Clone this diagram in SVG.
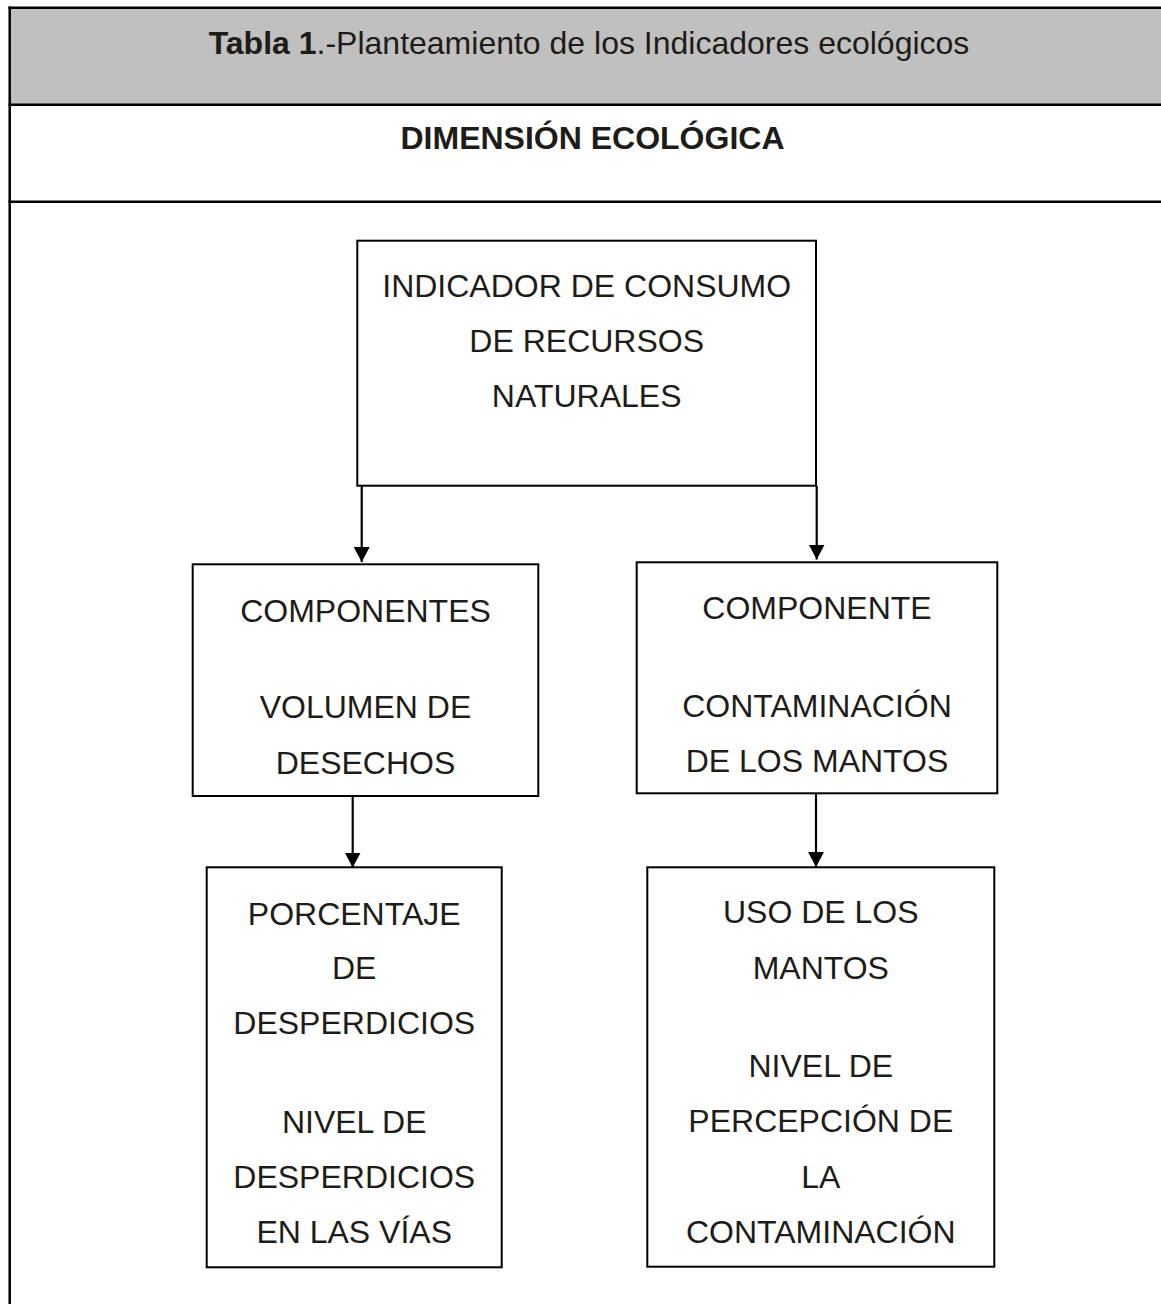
<svg xmlns="http://www.w3.org/2000/svg" width="1161" height="1304" viewBox="0 0 1161 1304">
<style>
text{font-family:"Liberation Sans",Arial,sans-serif;fill:#1e1c18;text-anchor:middle}
.t{font-size:32px}
.b{font-weight:bold}
.box{fill:#fff;stroke:#000;stroke-width:2}
.tl{stroke:#000;stroke-width:2.5;fill:none}
.c{stroke:#000;stroke-width:2.2;fill:none;marker-end:url(#ah)}
</style>
<defs>
<marker id="ah" viewBox="0 0 15 16" refX="15" refY="8" markerWidth="15" markerHeight="16" markerUnits="userSpaceOnUse" orient="auto">
<path d="M0,0 L15,8 L0,16 z" fill="#000"/>
</marker>
</defs>
<g id="table">
<rect x="9.5" y="7.7" width="1160" height="97" fill="#c0c0c0"/>
<line class="tl" x1="8.5" y1="7.7" x2="1161" y2="7.7"/>
<line class="tl" x1="8.5" y1="104.7" x2="1161" y2="104.7"/>
<line class="tl" x1="8.5" y1="201.7" x2="1161" y2="201.7"/>
<line class="tl" x1="9.7" y1="6.5" x2="9.7" y2="1304"/>
<text class="t" x="589" y="54"><tspan class="b">Tabla 1</tspan>.-Planteamiento de los Indicadores ecológicos</text>
<text class="t b" x="592.5" y="149.3" font-size="31">DIMENSIÓN ECOLÓGICA</text>
</g>
<g id="connectors">
<line class="c" x1="361.7" y1="486" x2="361.7" y2="562"/>
<line class="c" x1="816.7" y1="486" x2="816.7" y2="559.5"/>
<line class="c" x1="352.7" y1="796" x2="352.7" y2="867.5"/>
<line class="c" x1="816" y1="793.3" x2="816" y2="867"/>
</g>
<g id="n1">
<rect class="box" x="357.3" y="240.7" width="458.7" height="245"/>
<text class="t" x="586.7" y="296.7">INDICADOR DE CONSUMO</text>
<text class="t" x="586.7" y="351.7">DE RECURSOS</text>
<text class="t" x="586.7" y="406.7">NATURALES</text>
</g>
<g id="n2">
<rect class="box" x="192.7" y="564.3" width="345.6" height="231.7"/>
<text class="t" x="365.5" y="621.7">COMPONENTES</text>
<text class="t" x="365.5" y="718.3">VOLUMEN DE</text>
<text class="t" x="365.5" y="774">DESECHOS</text>
</g>
<g id="n3">
<rect class="box" x="636.7" y="562.3" width="360.6" height="231"/>
<text class="t" x="817" y="619">COMPONENTE</text>
<text class="t" x="817" y="716.7">CONTAMINACIÓN</text>
<text class="t" x="817" y="771.7">DE LOS MANTOS</text>
</g>
<g id="n4">
<rect class="box" x="206.7" y="867.3" width="295" height="400"/>
<text class="t" x="354.2" y="925">PORCENTAJE</text>
<text class="t" x="354.2" y="979.3">DE</text>
<text class="t" x="354.2" y="1034.3">DESPERDICIOS</text>
<text class="t" x="354.2" y="1133.3">NIVEL DE</text>
<text class="t" x="354.2" y="1187.7">DESPERDICIOS</text>
<text class="t" x="354.2" y="1242.7">EN LAS VÍAS</text>
</g>
<g id="n5">
<rect class="box" x="647.3" y="867.3" width="347" height="399.4"/>
<text class="t" x="820.8" y="923.3">USO DE LOS</text>
<text class="t" x="820.8" y="979">MANTOS</text>
<text class="t" x="820.8" y="1077.3">NIVEL DE</text>
<text class="t" x="820.8" y="1131.7">PERCEPCIÓN DE</text>
<text class="t" x="820.8" y="1187.7">LA</text>
<text class="t" x="820.8" y="1242.7">CONTAMINACIÓN</text>
</g>
</svg>
